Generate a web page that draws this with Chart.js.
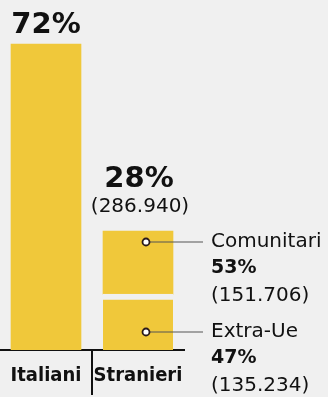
<!DOCTYPE html>
<html>
<head>
<meta charset="utf-8">
<script src="https://cdn.jsdelivr.net/npm/chart.js@4.4.1/dist/chart.umd.min.js"></script>
<style>
  html, body { margin: 0; padding: 0; background: #f0f0f0; }
  canvas { display: block; }
</style>
</head>
<body>
<canvas id="chart" width="328" height="397"></canvas>
<script>
// Data
const categories = ['Italiani', 'Stranieri'];
const sharePct = [72, 28];
const shareCount = [null, '286.940'];
const subLabels = ['Comunitari', 'Extra-Ue'];
const subPct = [53, 47];
const subCount = ['151.706', '135.234'];

const BG = '#f0f0f0';
const YELLOW = '#f0c83a';
const INK = '#111111';

const strPct = sharePct[1];
const comunitariVal = strPct * subPct[0] / 100;
const extraUeVal = strPct * subPct[1] / 100;

// Labels, leader lines and the divider under the axis
const annotations = {
    id: 'annotations',
    afterDatasetsDraw(chart) {
        const ctx = chart.ctx;
        const area = chart.chartArea;
        const x = chart.scales.x;
        const ital = chart.getDatasetMeta(0).data[0];
        const comu = chart.getDatasetMeta(2).data[1];

        ctx.save();
        ctx.fillStyle = INK;
        ctx.textAlign = 'center';
        ctx.textBaseline = 'alphabetic';

        // 72%
        ctx.font = 'bold 29px "DejaVu Sans"';
        ctx.fillText(sharePct[0] + '%', ital.x, ital.y - 11);

        // 28% (286.940)
        ctx.fillText(sharePct[1] + '%', comu.x + 1, comu.y - 44);
        ctx.font = '20px "DejaVu Sans"';
        ctx.fillText('(' + shareCount[1] + ')', comu.x + 2, comu.y - 19);

        // divider between categories
        const mid = (x.getPixelForValue(0) + x.getPixelForValue(1)) / 2;
        ctx.strokeStyle = INK;
        ctx.lineWidth = 2;
        ctx.beginPath();
        ctx.moveTo(mid, area.bottom);
        ctx.lineTo(mid, chart.height - 2);
        ctx.stroke();

        // side labels
        const colX = area.right + 27;
        const firstY = comu.y + 11;
        const groups = [firstY, firstY + 90];
        ctx.textAlign = 'left';
        ctx.textBaseline = 'middle';
        groups.forEach((gy, i) => {
            const dotX = comu.x + 8;
            ctx.strokeStyle = '#555';
            ctx.lineWidth = 1.2;
            ctx.beginPath();
            ctx.moveTo(dotX, gy);
            ctx.lineTo(colX - 8, gy);
            ctx.stroke();
            ctx.beginPath();
            ctx.arc(dotX, gy, 3.5, 0, Math.PI * 2);
            ctx.fillStyle = '#fff';
            ctx.fill();
            ctx.strokeStyle = '#2a1a1a';
            ctx.lineWidth = 1.8;
            ctx.stroke();

            ctx.fillStyle = INK;
            ctx.font = '20px "DejaVu Sans"';
            ctx.fillText(subLabels[i], colX, gy);
            ctx.font = 'bold 19px "DejaVu Sans"';
            ctx.fillText(subPct[i] + '%', colX, gy + 26);
            ctx.font = '20px "DejaVu Sans"';
            ctx.fillText('(' + subCount[i] + ')', colX, gy + 54);
        });
        ctx.restore();
    }
};

new Chart(document.getElementById('chart').getContext('2d'), {
    type: 'bar',
    data: {
        labels: categories,
        datasets: [
            { label: categories[0], data: [sharePct[0], null], backgroundColor: YELLOW, borderWidth: 0 },
            { label: subLabels[1], data: [null, extraUeVal], backgroundColor: YELLOW,
              borderWidth: { top: 6 }, borderColor: BG, borderSkipped: false },
            { label: subLabels[0], data: [null, comunitariVal], backgroundColor: YELLOW, borderWidth: 0 }
        ]
    },
    options: {
        responsive: false,
        animation: false,
        layout: { padding: { left: 0, right: 144, top: 10, bottom: 0 } },
        datasets: { bar: { barThickness: 70 } },
        scales: {
            x: {
                stacked: true,
                grid: { display: true, drawOnChartArea: false, drawTicks: true, tickLength: 14, color: 'transparent' },
                border: { display: true, color: INK, width: 2 },
                ticks: { color: INK, padding: 0, maxRotation: 0, minRotation: 0, autoSkip: false,
                         font: { family: "'DejaVu Sans Condensed', 'DejaVu Sans'", size: 20, weight: 'bold' } },
                afterFit(scale) { scale.height = 47; }
            },
            y: { stacked: true, display: false, min: 0, max: 80 }
        },
        plugins: { legend: { display: false }, tooltip: { enabled: false } }
    },
    plugins: [annotations]
});
</script>
</body>
</html>
